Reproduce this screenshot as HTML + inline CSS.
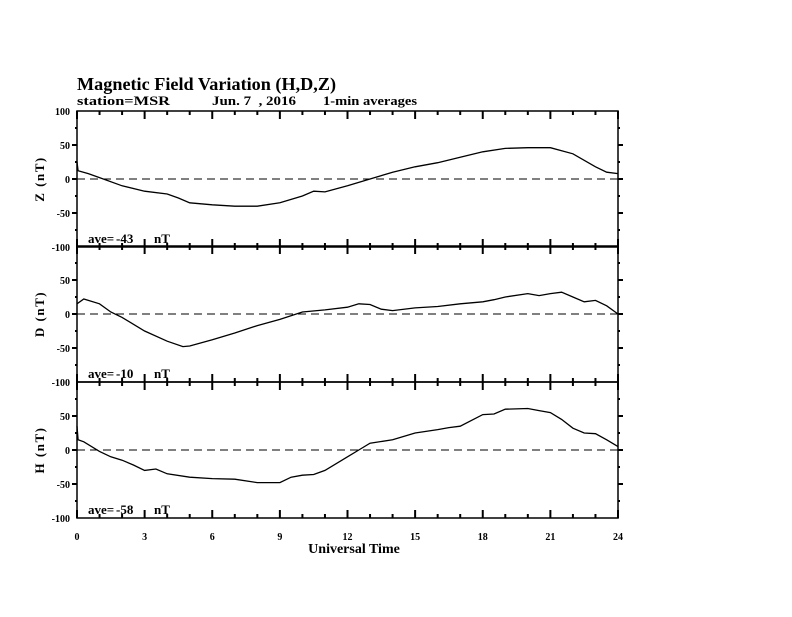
<!DOCTYPE html>
<html><head><meta charset="utf-8"><style>
html,body{margin:0;padding:0;background:#fff;}
svg text{font-family:"Liberation Serif",serif;font-weight:bold;fill:#000;}
</style></head><body>
<svg id="chart" width="792" height="612" xmlns="http://www.w3.org/2000/svg">
<text x="77" y="90" font-size="18" textLength="259" lengthAdjust="spacingAndGlyphs">Magnetic Field Variation (H,D,Z)</text>
<text x="77" y="105" font-size="13" textLength="93" lengthAdjust="spacingAndGlyphs">station=MSR</text>
<text x="212" y="105" font-size="13" textLength="84" lengthAdjust="spacingAndGlyphs" xml:space="preserve">Jun. 7  , 2016</text>
<text x="323" y="105" font-size="13" textLength="94" lengthAdjust="spacingAndGlyphs">1-min averages</text>
<text x="354" y="553" font-size="14" text-anchor="middle">Universal Time</text>
<g id="plots"></g>
</svg>
<script>
const panelNames = ["Z", "D", "H"];
const panelAverages = ["-43", "-10", "-58"];
const yTickLabels = ["100", "50", "0", "-50", "-100"];
const xTickLabels = ["0","3","6","9","12","15","18","21","24"];
const zHours = [0,0.05,0.5,1,2,3,4,4.5,5,6,7,8,9,10,10.5,11,12,13,14,15,16,17,18,19,20,21,22,23,23.5,24];
const zValues = [25,12,8,2,-10,-18,-22,-28,-35,-38,-40,-40,-35,-25,-18,-19,-10,0,10,18,24,32,40,45,46,46,37,18,10,8];
const dHours = [0,0.3,1,1.5,2,3,4,4.7,5,6,7,8,9,10,11,12,12.5,13,13.5,14,15,16,17,18,18.5,19,20,20.5,21,21.5,22,22.5,23,23.5,24];
const dValues = [15,22,15,3,-5,-25,-40,-48,-47,-38,-28,-17,-8,3,6,10,15,14,7,5,9,11,15,18,21,25,30,27,30,32,25,18,20,12,0];
const hHours = [0,0.05,0.3,1,1.5,2,2.5,3,3.5,4,5,6,7,8,9,9.5,10,10.5,11,12,12.5,13,14,15,16,16.5,17,18,18.5,19,20,20.5,21,21.5,22,22.5,23,23.5,24];
const hValues = [35,15,12,-2,-10,-15,-22,-30,-28,-35,-40,-42,-43,-48,-48,-40,-37,-36,-30,-10,0,10,15,25,30,33,35,52,53,60,61,58,55,45,32,25,24,15,5];
const seriesHours = [zHours, dHours, hHours];
const seriesValues = [zValues, dValues, hValues];

const X0 = 77, X1 = 618, panelTop = [111, 246, 382], panelH = 136;
const g = document.getElementById('plots');
const NS = "http://www.w3.org/2000/svg";
function xs(h){ return X0 + (X1 - X0) * h / 24; }
function ys(p, v){ return panelTop[p] + panelH * (100 - v) / 200; }
function mk(tag, attrs){ const e = document.createElementNS(NS, tag); for (const k in attrs) e.setAttribute(k, attrs[k]); g.appendChild(e); return e; }

for (let p = 0; p < 3; p++) {
  const top = panelTop[p], bot = top + panelH;
  const frame = mk('rect', {x: X0, y: top, width: X1 - X0, height: panelH, fill: 'none', stroke: '#000', 'stroke-width': 1.5});
  
  
  for (let h = 0; h <= 24; h++) {
    const L = h % 3 === 0 ? 8 : 4;
    const t1 = mk('line', {x1: xs(h), x2: xs(h), y1: top, y2: top + L, stroke: '#000', 'stroke-width': 2});
    
    
    const t2 = mk('line', {x1: xs(h), x2: xs(h), y1: bot, y2: bot - L, stroke: '#000', 'stroke-width': 2});
    
    
  }
  for (let v = -75; v <= 75; v += 25) {
    const L = v % 50 === 0 ? 5 : 2;
    const a = mk('line', {x1: X0, x2: X0 - L, y1: ys(p, v), y2: ys(p, v), stroke: '#000', 'stroke-width': 2});
    
    
    const b = mk('line', {x1: X1, x2: X1 + L, y1: ys(p, v), y2: ys(p, v), stroke: '#000', 'stroke-width': 2});
    
    
  }
  yTickLabels.forEach(s => {
    const v = +s;
    if (p > 0 && v === 100) return;
    const t = mk('text', {x: X0 - 7, y: ys(p, v) + 4, 'font-size': 10, 'text-anchor': 'end'});
    t.textContent = s;
    
    
  });
  const z = mk('line', {x1: X0, x2: X1, y1: ys(p, 0), y2: ys(p, 0), stroke: '#000', 'stroke-width': 1, 'stroke-dasharray': '8,5'});
  
  
  const yt = mk('text', {x: 44, y: ys(p, 0), 'font-size': 13, 'text-anchor': 'middle', 'letter-spacing': '1.5', transform: 'rotate(-90 44 ' + ys(p, 0) + ')'});
  yt.textContent = panelNames[p] + ' (nT)';
  
  
  const av = mk('text', {x: 88, y: bot - 4, 'font-size': 13});
  av.textContent = 'ave=';
  
  
  const avn = mk('text', {x: 116, y: bot - 4, 'font-size': 13});
  avn.textContent = panelAverages[p];
  
  
  const avu = mk('text', {x: 154, y: bot - 4, 'font-size': 13});
  avu.textContent = 'nT';
  
  
  const pts = seriesHours[p].map((h, i) => xs(h).toFixed(1) + ',' + ys(p, seriesValues[p][i]).toFixed(1)).join(' ');
  const line = mk('polyline', {points: pts, fill: 'none', stroke: '#000', 'stroke-width': 1.3});
  
  
}
xTickLabels.forEach(s => {
  const t = mk('text', {x: xs(+s), y: 540, 'font-size': 10, 'text-anchor': 'middle'});
  t.textContent = s;
  
  
});
</script>
</body></html>
